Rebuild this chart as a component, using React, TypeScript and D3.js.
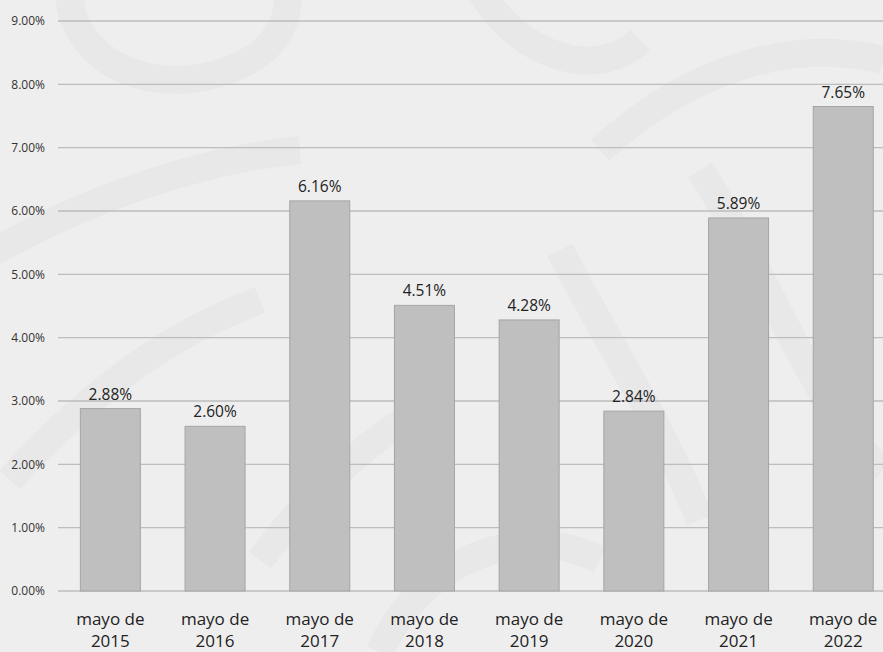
import React from "react";
import * as d3 from "d3";

const categories = ["mayo de 2015", "mayo de 2016", "mayo de 2017", "mayo de 2018", "mayo de 2019", "mayo de 2020", "mayo de 2021", "mayo de 2022"];
const values = [2.88, 2.6, 6.16, 4.51, 4.28, 2.84, 5.89, 7.65];
const yTicks = [0, 1, 2, 3, 4, 5, 6, 7, 8, 9];

const W = 883;
const H = 652;
const left = 58;
const bandW = 104.7;
const top = 21;
const bottom = 591;

export default function App() {
  const x = d3
    .scaleBand<string>()
    .domain(categories)
    .range([left, left + bandW * categories.length])
    .paddingInner(0.427)
    .paddingOuter(0.2135);
  const y = d3.scaleLinear().domain([0, 9]).range([bottom, top]);

  return (
    <svg
      width={W}
      height={H}
      style={{ position: "absolute", left: 0, top: 0, background: "#eeeeee" }}
      fontFamily="'Open Sans', 'Noto Sans', sans-serif"
    >
      <rect x={0} y={0} width={W} height={H} fill="#eeeeee" />
      {/* faint watermark */}
      <g fill="none" stroke="#e8e8e8" strokeWidth={28}>
        <path d="M 70 -20 C 60 60 160 110 250 60 C 300 30 290 -20 280 -40" />
        <path d="M -20 260 C 80 200 200 160 300 150" />
        <path d="M 10 480 C 100 380 180 330 260 300" />
        <path d="M 480 -10 C 520 60 600 80 640 40" />
        <path d="M 600 150 C 700 60 800 40 883 60" />
        <path d="M 700 170 C 760 260 820 420 883 470" />
        <path d="M 380 652 C 420 560 520 520 600 560" />
        <path d="M 560 250 C 600 330 660 420 700 520" />
        <path d="M 260 560 C 320 480 380 430 440 400" />
      </g>
      {yTicks.map((t) => (
        <g key={t}>
          <line x1={left} x2={W} y1={y(t)} y2={y(t)} stroke="#bdbdbd" strokeWidth={1.3} />
          <text x={45} y={y(t)} dy="0.35em" textAnchor="end" fontSize={12} fill="#333">
            {t.toFixed(2)}%
          </text>
        </g>
      ))}
      {categories.map((c, i) => {
        const bx = x(c)!;
        const bw = x.bandwidth();
        const cx = bx + bw / 2;
        const parts = c.split(" ");
        const line1 = parts.slice(0, 2).join(" ");
        const line2 = parts[2];
        return (
          <g key={c}>
            <rect
              x={bx}
              y={y(values[i])}
              width={bw}
              height={y(0) - y(values[i])}
              fill="#bfbfbf"
              stroke="#a5a5a5"
              strokeWidth={1}
            />
            <text x={cx} y={y(values[i]) - 9} textAnchor="middle" fontSize={15.5} fill="#222">
              {values[i].toFixed(2)}%
            </text>
            <text x={cx} y={625} textAnchor="middle" fontSize={17} fill="#222">
              {line1}
            </text>
            <text x={cx} y={647} textAnchor="middle" fontSize={17} fill="#222">
              {line2}
            </text>
          </g>
        );
      })}
    </svg>
  );
}
